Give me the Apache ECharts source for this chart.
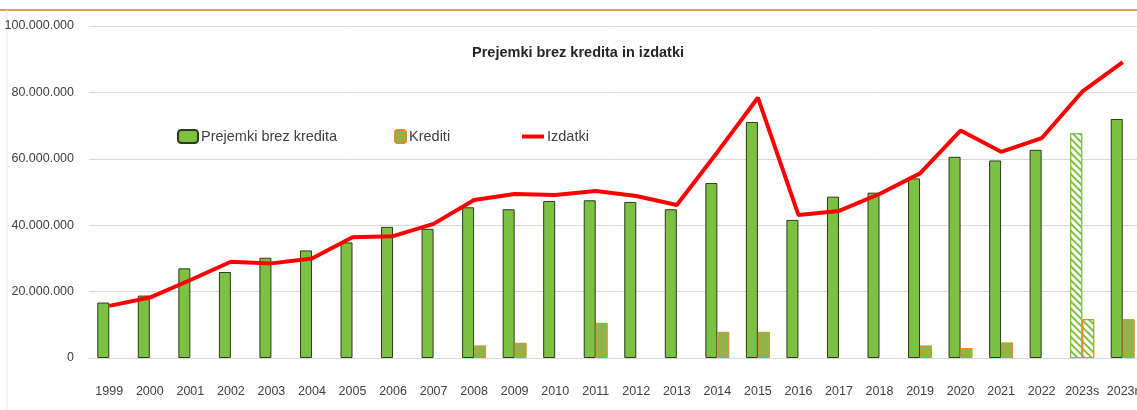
<!DOCTYPE html>
<html>
<head>
<meta charset="utf-8">
<script src="https://cdn.jsdelivr.net/npm/echarts@6/dist/echarts.min.js"></script>
<style>
  html, body { margin: 0; padding: 0; background: #fff; }
  #chart { width: 1137px; height: 410px; }
</style>
</head>
<body>
<div id="chart"></div>
<script>
var years = ['1999', '2000', '2001', '2002', '2003', '2004', '2005', '2006', '2007', '2008',
  '2009', '2010', '2011', '2012', '2013', '2014', '2015', '2016', '2017', '2018',
  '2019', '2020', '2021', '2022', '2023s', '2023r'];

// Prejemki brez kredita
var prejemki = [16.7, 18.8, 27.0, 25.9, 30.2, 32.4, 34.8, 39.5, 38.9, 45.4,
  44.8, 47.3, 47.5, 47.0, 44.8, 52.7, 71.1, 41.6, 48.6, 49.8,
  54.1, 60.6, 59.5, 62.7, 67.7, 72.0];

// Krediti (null = no credit that year)
var krediti = [null, null, null, null, null, null, null, null, null, 3.8,
  4.6, null, 10.6, null, null, 7.9, 7.9, null, null, null,
  3.8, 3.0, 4.7, null, 11.7, 11.7];

// Izdatki
var izdatki = [15.7, 18.2, 23.5, 29.0, 28.5, 30.0, 36.4, 36.7, 40.4, 47.6,
  49.4, 49.1, 50.3, 48.8, 46.1, 62.0, 78.4, 43.1, 44.3, 49.4,
  55.6, 68.5, 62.1, 66.2, 80.2, 89.1];

var MIO = 1000000;
var font = '"Liberation Sans", Arial, sans-serif';

function dots(v) {
  return String(v).replace(/\B(?=(\d{3})+(?!\d))/g, '.');
}

// the 2023s column is an estimate, drawn hatched
var hatch = {
  color: '#ffffff',
  borderColor: '#7cc142',
  borderWidth: 1,
  decal: {
    symbol: 'rect',
    color: '#7cc142',
    dashArrayX: [1, 0],
    dashArrayY: [2, 3],
    rotation: Math.PI / 4
  }
};

var prejemkiData = prejemki.map(function (v, i) {
  var d = { value: v * MIO };
  if (years[i] === '2023s') d.itemStyle = hatch;
  return d;
});
var kreditiData = krediti.map(function (v, i) {
  if (v === null) return null;
  var d = { value: v * MIO };
  if (years[i] === '2023s') d.itemStyle = Object.assign({}, hatch, { borderColor: '#e08a2a' });
  return d;
});

var chart = echarts.init(document.getElementById('chart'));

var legendText = { fontFamily: font, fontSize: 14.5, color: '#404040', padding: [0, 0, 0, -2] };

var option = {
  animation: false,
  textStyle: { fontFamily: font },
  title: {
    text: 'Prejemki brez kredita in izdatki',
    left: 573,
    textAlign: 'center',
    top: 40,
    textStyle: { fontFamily: font, fontSize: 14.5, fontWeight: 'bold', color: '#262626' }
  },
  legend: [
    {
      left: 172, top: 124,
      itemWidth: 20, itemHeight: 13,
      data: ['Prejemki brez kredita'],
      textStyle: legendText
    },
    {
      left: 389, top: 124,
      itemWidth: 11, itemHeight: 13,
      data: ['Krediti'],
      textStyle: legendText
    },
    {
      left: 517, top: 124,
      itemWidth: 22, itemHeight: 4,
      data: [{ name: 'Izdatki', icon: 'rect' }],
      textStyle: legendText
    }
  ],
  grid: { left: 89, top: 26, width: 1054, height: 332, outerBoundsMode: 'none' },
  xAxis: {
    type: 'category',
    data: years,
    axisLine: { lineStyle: { color: '#d9d9d9' } },
    axisTick: { show: false },
    axisLabel: { fontFamily: font, fontSize: 12.5, color: '#404040', margin: 27, interval: 0 }
  },
  yAxis: {
    type: 'value',
    min: 0,
    max: 100 * MIO,
    interval: 20 * MIO,
    splitLine: { lineStyle: { color: '#d9d9d9', width: 1 } },
    axisLabel: {
      fontFamily: font, fontSize: 12.5, color: '#404040', margin: 15,
      formatter: dots
    }
  },
  graphic: [
    { type: 'line', shape: { x1: 0, y1: 10, x2: 1137, y2: 10 }, style: { stroke: '#d9a064', lineWidth: 2 } },
    { type: 'line', shape: { x1: 7, y1: 10, x2: 7, y2: 410 }, style: { stroke: '#f2e6d2', lineWidth: 1 } }
  ],
  series: [
    {
      name: 'Prejemki brez kredita',
      type: 'bar',
      barWidth: 12,
      barGap: '0%',
      data: prejemkiData,
      itemStyle: { color: '#7cc142', borderColor: '#2b3a1f', borderWidth: 1 }
    },
    {
      name: 'Krediti',
      type: 'bar',
      barWidth: 12,
      data: kreditiData,
      itemStyle: { color: '#8fb54a', borderColor: '#e08a2a', borderWidth: 1 }
    },
    {
      name: 'Izdatki',
      type: 'line',
      data: izdatki.map(function (v) { return v * MIO; }),
      symbol: 'none',
      lineStyle: { color: '#ff0000', width: 4 },
      itemStyle: { color: '#ff0000' }
    }
  ]
};

chart.setOption(option);
</script>
</body>
</html>
